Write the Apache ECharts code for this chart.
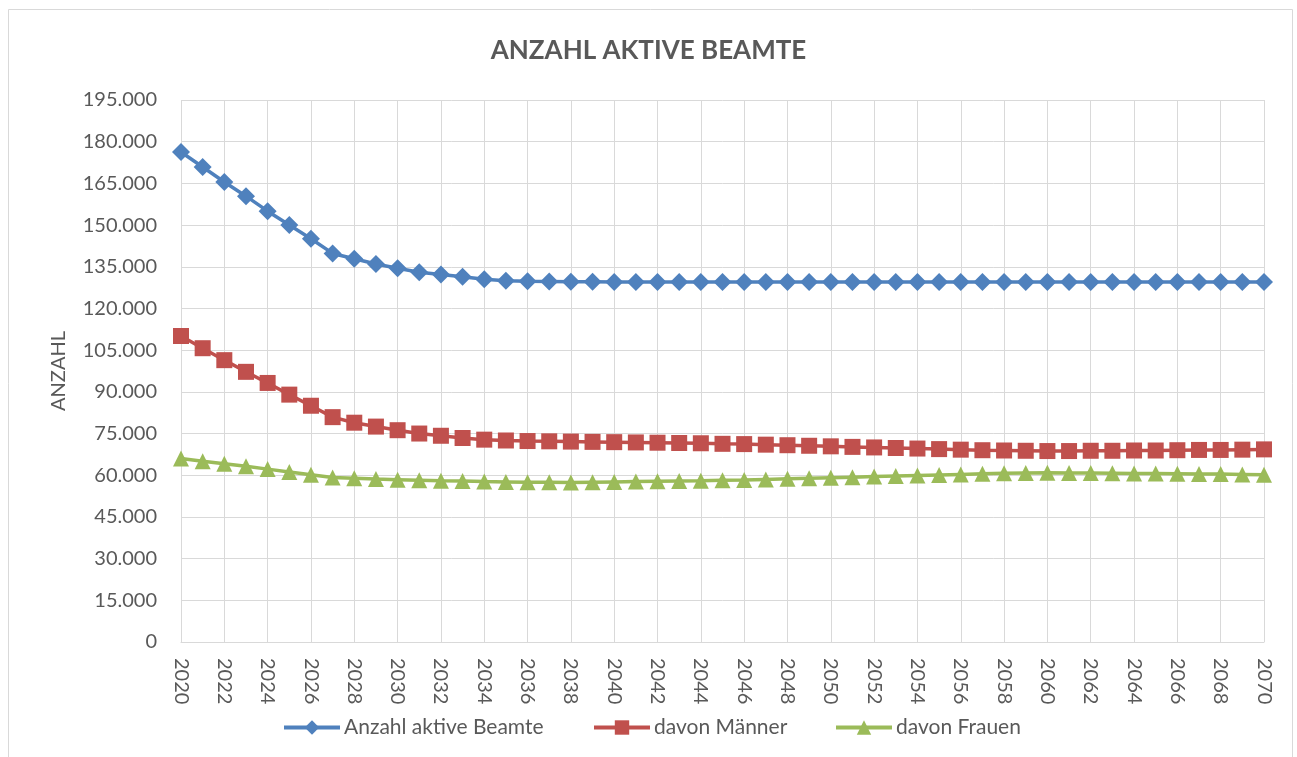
<!DOCTYPE html>
<html>
<head>
<meta charset="utf-8">
<script src="https://cdn.jsdelivr.net/npm/echarts@6/dist/echarts.min.js"></script>
<style>
  html, body { margin: 0; padding: 0; background: #fff; }
  #chartmain { width: 1297px; height: 757px; }
</style>
</head>
<body>
<div id="chartmain"></div>
<script>
var years = []
for (var y = 2020; y <= 2070; y++) years.push(String(y))

var beamte = [
  176300, 170900, 165500, 160400, 155000, 150000, 145100, 139800, 137900, 136000,
  134500, 133000, 132200, 131400, 130500, 130000, 129800, 129700, 129600, 129600,
  129500, 129500, 129500, 129500, 129500, 129500, 129500, 129500, 129500, 129500,
  129500, 129500, 129500, 129500, 129500, 129500, 129500, 129500, 129500, 129500,
  129500, 129500, 129500, 129500, 129500, 129500, 129500, 129500, 129500, 129500,
  129500
]
var maenner = [
  110100, 105700, 101400, 97200, 93200, 89000, 85000, 80900, 78900, 77500,
  76200, 75000, 74200, 73400, 72800, 72500, 72300, 72200, 72100, 72000,
  71900, 71800, 71700, 71600, 71500, 71300, 71200, 71000, 70800, 70600,
  70400, 70200, 70000, 69800, 69600, 69400, 69200, 69000, 68900, 68800,
  68700, 68700, 68800, 68800, 68900, 68900, 69000, 69100, 69100, 69200,
  69300
]
var frauen = [
  66000, 65000, 64100, 63200, 62200, 61200, 60200, 59200, 58900, 58600,
  58400, 58200, 58000, 57900, 57700, 57600, 57500, 57500, 57400, 57500,
  57600, 57700, 57800, 57900, 58000, 58200, 58300, 58500, 58700, 58900,
  59100, 59300, 59500, 59700, 59900, 60100, 60300, 60500, 60700, 60800,
  60900, 60800, 60800, 60700, 60600, 60600, 60500, 60400, 60400, 60300,
  60200
]
var seriesNames = ['Anzahl aktive Beamte', 'davon Männer', 'davon Frauen']

var fontColor = '#595959'
var gridColor = '#d9d9d9'
var fontName = 'Lato'

function deNumber(v) {
  return String(v).replace(/\B(?=(\d{3})+(?!\d))/g, '.')
}

function lineSeries(name, data, color, symbol, size) {
  return {
    name: name,
    type: 'line',
    data: data,
    symbol: symbol,
    symbolSize: size,
    showAllSymbol: true,
    itemStyle: { color: color },
    lineStyle: { color: color, width: 3.5 },
  }
}

// one legend per entry, so each sits where the reference has it
function legendItem(name, left) {
  return {
    left: left,
    top: 712,
    itemWidth: 56,
    itemHeight: 18,
    itemGap: 0,
    lineStyle: { width: 4 },
    textStyle: { color: fontColor, fontSize: 21, fontFamily: fontName, padding: [0, 0, 0, -1] },
    data: [name],
  }
}

var option = {
  backgroundColor: '#fff',
  animation: false,
  textStyle: { fontFamily: fontName },
  graphic: [
    {
      type: 'rect',
      shape: { x: 8.5, y: 9.5, width: 1284, height: 800 },
      style: { fill: 'none', stroke: gridColor, lineWidth: 1 },
      silent: true,
    },
  ],
  title: {
    text: 'ANZAHL AKTIVE BEAMTE',
    left: 'center',
    top: 33,
    textStyle: {
      color: fontColor,
      fontFamily: fontName,
      fontWeight: 'bold',
      fontSize: 26,
    },
  },
  grid: {
    left: 181,
    right: 33,
    top: 100,
    bottom: 115,
  },
  legend: [
    legendItem(seriesNames[0], 277),
    legendItem(seriesNames[1], 587),
    legendItem(seriesNames[2], 829),
  ],
  xAxis: {
    type: 'category',
    boundaryGap: false,
    data: years,
    axisLine: { show: true, lineStyle: { color: gridColor, width: 1 } },
    axisTick: { show: false },
    axisLabel: {
      interval: 1,
      rotate: -90,
      margin: 16,
      color: fontColor,
      fontSize: 20,
      fontFamily: fontName,
    },
    splitLine: {
      show: true,
      interval: 1,
      lineStyle: { color: gridColor, width: 1 },
    },
  },
  yAxis: {
    type: 'value',
    min: 0,
    max: 195000,
    interval: 15000,
    name: 'ANZAHL',
    nameLocation: 'middle',
    nameGap: 112,
    nameTextStyle: { color: fontColor, fontSize: 20, fontFamily: fontName },
    axisLine: { show: false },
    axisTick: { show: false },
    axisLabel: {
      margin: 24,
      color: fontColor,
      fontSize: 20,
      fontFamily: fontName,
      formatter: deNumber,
    },
    splitLine: { show: true, lineStyle: { color: gridColor, width: 1 } },
  },
  series: [
    lineSeries(seriesNames[0], beamte, '#4f81bd', 'diamond', 18),
    lineSeries(seriesNames[1], maenner, '#c0504d', 'rect', 16),
    lineSeries(seriesNames[2], frauen, '#9bbb59', 'triangle', 16),
  ],
}

var myChart = echarts.init(document.getElementById('chartmain'))
myChart.setOption(option)
</script>
</body>
</html>
